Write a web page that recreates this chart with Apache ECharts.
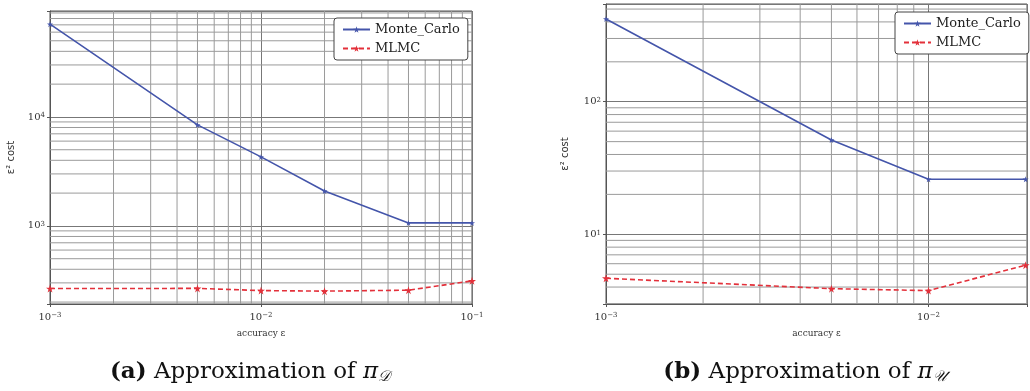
<!DOCTYPE html>
<html>
<head>
<meta charset="utf-8">
<script src="https://cdn.jsdelivr.net/npm/echarts@6/dist/echarts.min.js"></script>
<style>
html,body{margin:0;padding:0;background:#fff;}
#chart{width:1030px;height:391px;}
</style>
</head>
<body>
<div id="chart"></div>
<script>
// ---- data ----
const epsA = [0.001, 0.005, 0.01, 0.02, 0.05, 0.1];
const mcA = [71000, 8450, 4300, 2090, 1065, 1065];
const mlmcA = [266, 267, 255, 252, 257, 313];

const epsB = [0.001, 0.005, 0.01, 0.02];
const mcB = [421, 51.4, 26.0, 26.0];
const mlmcB = [4.66, 3.89, 3.76, 5.85];

const seriesNames = ['Monte_Carlo', 'MLMC'];
const captionA = ['(a)', 'Approximation of ', 'π', '𝒟'];
const captionB = ['(b)', 'Approximation of ', 'π', '𝒰'];

// axis ranges
const xRangeA = [0.001, 0.1];
const yRangeA = [192, 93800];
const xRangeB = [0.001, 0.0202];
const yRangeB = [2.98, 546];

// minor grid values (log sub-decades)
const minorXA = [0.002,0.003,0.004,0.005,0.006,0.007,0.008,0.009,0.02,0.03,0.04,0.05,0.06,0.07,0.08,0.09];
const minorYA = [200,300,400,500,600,700,800,900,2000,3000,4000,5000,6000,7000,8000,9000,20000,30000,40000,50000,60000,70000,80000,90000];
const minorXB = [0.002,0.003,0.004,0.005,0.006,0.007,0.008,0.009];
const minorYB = [3,4,5,6,7,8,9,20,30,40,50,60,70,80,90,200,300,400,500];

const BLUE = '#4455aa';
const RED = '#e3303a';
const GRIDC = '#9a9a9a';
const STAR = 'path://M50,0 L61,35 L98,35 L68,57 L79,91 L50,70 L21,91 L32,57 L2,35 L39,35 Z';

function powLabel(v) {
  const e = Math.round(Math.log10(v));
  if (Math.abs(v - Math.pow(10, e)) / v > 1e-6) return '';
  const es = e < 0 ? '−' + (-e) : String(e);
  return '10{sup|' + es + '}';
}
const labelRich = {
  sup: { fontSize: 7, verticalAlign: 'top', lineHeight: 10, fontFamily: 'DejaVu Serif', color: '#333', padding: [0,0,4,0] }
};

function xAxisCfg(gi, r) {
  return {
    type: 'log', logBase: 10, gridIndex: gi, min: r[0], max: r[1],
    name: 'accuracy ε', nameLocation: 'middle', nameGap: 25,
    nameTextStyle: { fontFamily: 'DejaVu Serif', fontSize: 9, color: '#333' },
    axisLine: { show: true, onZero: false, lineStyle: { color: '#555', width: 1 } },
    axisTick: { show: true, length: 3, lineStyle: { color: '#555' } },
    axisLabel: { formatter: powLabel, rich: labelRich, fontFamily: 'DejaVu Serif', fontSize: 10, color: '#333', margin: 8, showMinLabel: true, showMaxLabel: true },
    splitLine: { show: true, lineStyle: { color: '#777', width: 1 } }
  };
}
function yAxisCfg(gi, r, gap) {
  return {
    type: 'log', logBase: 10, gridIndex: gi, min: r[0], max: r[1],
    name: 'ε² cost', nameLocation: 'middle', nameGap: gap, nameRotate: 90,
    nameTextStyle: { fontFamily: 'DejaVu Sans', fontSize: 10, color: '#333' },
    axisLine: { show: true, lineStyle: { color: '#555', width: 1 } },
    axisTick: { show: true, length: 3, lineStyle: { color: '#555' } },
    axisLabel: { formatter: powLabel, rich: labelRich, fontFamily: 'DejaVu Serif', fontSize: 10, color: '#333', margin: 5 },
    splitLine: { show: true, lineStyle: { color: '#777', width: 1 } }
  };
}

// minor grid lines drawn as a broken line series through the axes' scales
function gridLinesSeries(gi, xs, ys, xr, yr) {
  const d = [];
  xs.forEach(v => { d.push([v, yr[0]]); d.push([v, yr[1]]); d.push(['-', '-']); });
  ys.forEach(v => { d.push([xr[0], v]); d.push([xr[1], v]); d.push(['-', '-']); });
  return {
    type: 'line', xAxisIndex: gi, yAxisIndex: gi, z: 1,
    data: d, showSymbol: false, symbol: 'none', connectNulls: false, silent: true,
    lineStyle: { color: GRIDC, width: 1 }
  };
}

function mcSeries(gi, xs, ys) {
  return {
    name: seriesNames[0], type: 'line', xAxisIndex: gi, yAxisIndex: gi, z: 5,
    data: xs.map((x, i) => [x, ys[i]]),
    symbol: STAR, symbolSize: 6, showSymbol: true,
    lineStyle: { color: BLUE, width: 1.6 }, itemStyle: { color: BLUE }
  };
}
function mlSeries(gi, xs, ys) {
  return {
    name: seriesNames[1], type: 'line', xAxisIndex: gi, yAxisIndex: gi, z: 5,
    data: xs.map((x, i) => [x, ys[i]]),
    symbol: STAR, symbolSize: 8, showSymbol: true,
    lineStyle: { color: RED, width: 1.6, type: [5, 3] }, itemStyle: { color: RED }
  };
}

function legendCfg(left, top) {
  return {
    data: seriesNames, orient: 'vertical', left: left, top: top, z: 50,
    itemWidth: 27, itemHeight: 8, itemGap: 6,
    backgroundColor: '#fff', borderColor: '#444', borderWidth: 1, borderRadius: 3,
    padding: [5, 8, 5, 8],
    textStyle: { fontFamily: 'DejaVu Serif', fontSize: 13, color: '#222' },
    selectedMode: false
  };
}

function captionCfg(c, x) {
  const base = { fontFamily: 'DejaVu Serif', fontSize: 23, color: '#111', fontWeight: 'normal' };
  return {
    text: '{b|' + c[0] + '}{n| ' + c[1] + '}{i|' + c[2] + '}{s|' + c[3] + '}',
    left: x, top: 355, textAlign: 'center',
    textStyle: {
      fontWeight: 'normal',
      rich: {
        b: Object.assign({}, base, { fontWeight: 'bold' }),
        n: Object.assign({}, base),
        i: Object.assign({}, base, { fontStyle: 'italic' }),
        s: Object.assign({}, base, { fontStyle: 'italic', fontSize: 15, padding: [10, 0, 0, 0] })
      }
    }
  };
}

const chart = echarts.init(document.getElementById('chart'), null, { renderer: 'canvas' });
chart.setOption({
  animation: false,
  backgroundColor: '#fff',
  title: [captionCfg(captionA, 245), captionCfg(captionB, 800)],
  legend: [legendCfg(334, 18), legendCfg(895, 12)],
  grid: [
    { left: 50, top: 11, width: 422, height: 293, show: true, borderColor: '#555', borderWidth: 1, containLabel: false },
    { left: 606, top: 4, width: 427, height: 300, show: true, borderColor: '#555', borderWidth: 1, containLabel: false }
  ],
  xAxis: [xAxisCfg(0, xRangeA), xAxisCfg(1, xRangeB)],
  yAxis: [yAxisCfg(0, yRangeA, 34), yAxisCfg(1, yRangeB, 36)],
  series: [
    gridLinesSeries(0, minorXA, minorYA, xRangeA, yRangeA),
    gridLinesSeries(1, minorXB, minorYB, xRangeB, yRangeB),
    mcSeries(0, epsA, mcA),
    mlSeries(0, epsA, mlmcA),
    mcSeries(1, epsB, mcB),
    mlSeries(1, epsB, mlmcB)
  ]
});
</script>
</body>
</html>
